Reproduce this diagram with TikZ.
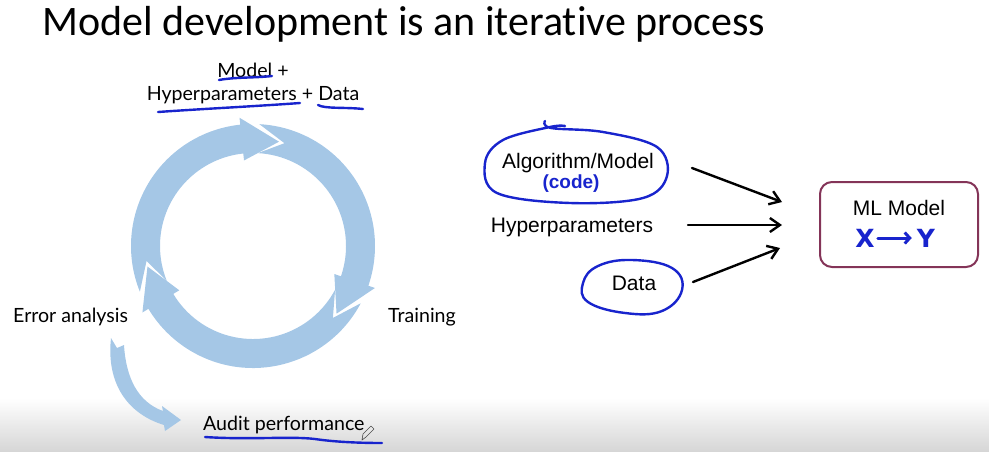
\documentclass[tikz,border=0pt]{standalone}
\usepackage{fontspec}
\setmainfont{Liberation Sans}
\newfontfamily\titlefont[Ligatures={NoCommon,NoContextual}]{Carlito}
\newfontfamily\latofont{Lato}
\newfontfamily\dejavu{DejaVu Sans}
\usetikzlibrary{arrows.meta}

\definecolor{cycblue}{RGB}{165,199,230}
\definecolor{penblue}{RGB}{24,36,205}
\definecolor{boxplum}{RGB}{132,52,88}

% One block of the cycle: #1 = tip angle of the previous block, #2 = own tip angle
\newcommand\cycblock[2]{%
  \fill[cycblue] ({#1+11}:122pt) arc[start angle={#1+11}, end angle={#2+20}, radius=122pt]
    -- ({#2+20}:129pt) -- (#2:107.5pt) -- ({#2+20}:86pt) -- ({#2+20}:93pt)
    arc[start angle={#2+20}, end angle={#1+11}, radius=93pt]
    -- ({#1-3}:107.5pt) -- cycle;}

\begin{document}
\begin{tikzpicture}[x=1pt,y=-1pt,
  pen/.style={penblue, line width=2.4pt, line cap=round, line join=round},
  cyclabel/.style={font=\latofont\fontsize{19.6}{22}\selectfont, inner sep=0pt, anchor=base},
  sidelabel/.style={font=\fontsize{21}{24}\selectfont, inner sep=0pt, anchor=base},
  penletter/.style={font=\dejavu\bfseries\fontsize{25}{28}\selectfont, text=penblue, inner sep=0pt},
  feed/.style={line width=2.4pt, line cap=round, -{Straight Barb[length=10pt,width=14pt]}},
]
\useasboundingbox (0,0) rectangle (989,451);
\shade[top color=white, bottom color=black!16] (0,398) rectangle (989,451);

% title
\node[font=\titlefont\fontsize{42}{48}\selectfont, anchor=base west, inner sep=0pt] (title) at (42,35) {Model development is an iterative process};

% the three-step cycle
\begin{scope}[shift={(253,246)}]
  \cycblock{191}{76}
  \cycblock{76}{-39}
  \cycblock{-39}{-169}
\end{scope}

% side arrow from error analysis to audit
\fill[cycblue] (111,338) -- (117,348) -- (124,345)
  .. controls (126,378) and (138,402) .. (163,411) -- (162,406) -- (181,420) -- (165,431) -- (164,425)
  .. controls (128,414) and (106,384) .. (111,338) -- cycle;

% cycle labels
\node[cyclabel] (top1) at (253,77) {Model +};
\node[cyclabel] (top2) at (253,100) {Hyperparameters + Data};
\node[cyclabel, anchor=base west] (err) at (13,322) {Error analysis};
\node[cyclabel, anchor=base west] (train) at (388,322) {Training};
\node[cyclabel, anchor=base west] (audit) at (203,430) {Audit performance};

% pen underlines
\draw[pen] (219,80) .. controls (235,77) and (255,78) .. (272,76);
\draw[pen] (158,112) .. controls (200,109) and (260,106) .. (300,103);
\draw[pen] (318,105) .. controls (325,109) and (345,107) .. (363,109);
\draw[pen] (205,437) .. controls (250,440) and (290,436) .. (315,439)
  .. controls (335,442) and (360,443) .. (382,443);

% pencil cursor
\draw[black!70, line width=0.6pt, line join=round] (362,440) -- (363,434) -- (371,426) -- (374,429) -- (366,437) -- cycle;

% inputs of the model
\node[sidelabel] (algo) at (578,168) {Algorithm/Model};
\node[font=\bfseries\fontsize{19}{20}\selectfont, text=penblue, inner sep=0pt] (code) at (571,184) {(code)};
\node[sidelabel] (hyper) at (572,232) {Hyperparameters};
\node[sidelabel] (data) at (634,290) {Data};

\draw[pen] plot[smooth, tension=0.6] coordinates {(545,121) (551,128) (603,132) (657,147) (667,176) (643,198) (570,203) (497,193) (485,163) (503,140) (550,127) (565,126)};
\draw[pen] plot[smooth cycle, tension=0.7] coordinates {(632,260) (672,268) (682,290) (662,311) (625,313) (588,302) (583,283) (598,266)};

% model box
\node[draw=boxplum, line width=2pt, rounded corners=12pt, minimum width=158pt, minimum height=85pt, inner sep=0pt] (mlbox) at (899,224.5) {};
\node[sidelabel] (mltext) at (899,215) {ML Model};
\node[penletter] (xin) at (865,238) {X};
\node[penletter] (yout) at (926,238) {Y};
\draw[pen, line width=3pt, -{Straight Barb[length=5pt,width=11pt]}] ([xshift=3pt]xin.east) -- ([xshift=-5pt]yout.west);

% feed arrows into the model
\coordinate (f1s) at (692,168); \coordinate (f1e) at (782,202);
\coordinate (f2s) at (688,225); \coordinate (f2e) at (782,225);
\coordinate (f3s) at (693,282); \coordinate (f3e) at (780,248);
\draw[feed] (f1s) -- (f1e);
\draw[feed] (f2s) -- (f2e);
\draw[feed] (f3s) -- (f3e);
\end{tikzpicture}
\end{document}
